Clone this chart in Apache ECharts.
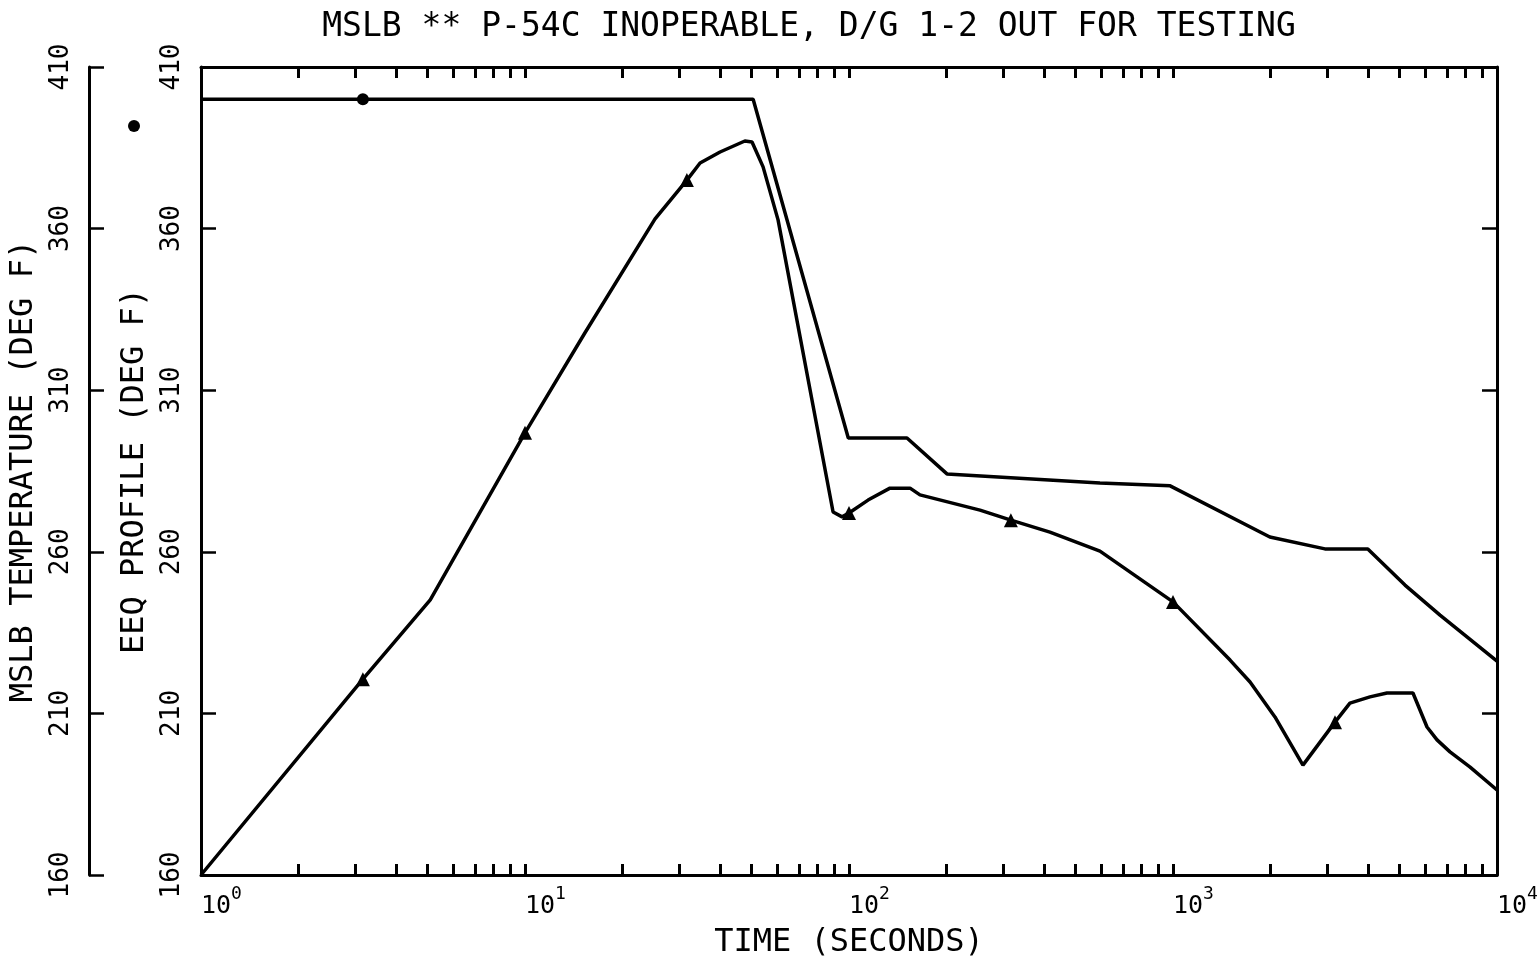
<!DOCTYPE html>
<html>
<head>
<meta charset="utf-8">
<title>MSLB - P-54C inoperable</title>
<script src="https://cdn.jsdelivr.net/npm/echarts@6/dist/echarts.min.js"></script>
<style>
  html, body { margin: 0; padding: 0; background: #fff; }
  #chart { width: 1540px; height: 962px; }
</style>
</head>
<body>
<div id="chart"></div>
<script>
// EEQ profile (upper curve), time in seconds / temperature in deg F
const eeqTime = [1, 3.16, 50.6, 99.5, 151, 200.6, 595, 980, 1990, 2944, 3993, 5200, 6670, 10000]
const eeqTemp = [400, 400, 400, 295.2, 295.2, 284.1, 281.3, 280.4, 264.6, 260.9, 260.9, 249.7, 240.4, 226.2]
const eeqMarkTimes = [3.16]

// MSLB temperature (lower curve)
const mslbTime = [1, 3.16, 5.1, 10, 15.3, 25.2, 31.6, 34.7, 40, 47.7, 50.2, 54.3, 60.4, 89.3, 95.2, 100,
  114.5, 133.8, 154.3, 165.6, 253.7, 316, 417, 595, 1000, 1500, 1729, 2064, 2518, 3162, 3516, 4055,
  4575, 5503, 6081, 6530, 7160, 8260, 10000]
const mslbTemp = [160, 220.6, 245.1, 296.8, 327.7, 363.0, 375.0, 380.3, 383.7, 387.1, 386.8, 379.1, 362.7, 272.3, 270.8, 272.0,
  276.0, 279.7, 279.7, 277.6, 272.9, 269.8, 266.1, 260.2, 244.5, 226.5, 219.7, 208.9, 194.0, 207.3, 213.2, 215.1,
  216.3, 216.3, 205.8, 201.8, 198.1, 193.4, 186.3]
const mslbMarkTimes = [3.16, 10, 31.6, 100, 316, 1000, 3162]

// tick labels
const yTicks = [160, 210, 260, 310, 360, 410]
const xDecades = [1, 10, 100, 1000, 10000]
const xTicks = []
xDecades.forEach((d, i) => {
  if (i === xDecades.length - 1) { xTicks.push(d); return }
  for (let k = 1; k < 10; k++) xTicks.push(d * k)
})

const FONT = "'DejaVu Sans Mono', monospace"
const INK = '#000'

const toData = (times, temps, marks, symbol) => times.map((t, i) => ({
  value: [t, temps[i]],
  symbol: marks.includes(t) ? symbol : 'none'
}))

const xAxisBase = (pos) => ({
  type: 'log',
  logBase: 10,
  min: 1,
  max: 10000,
  position: pos,
  axisLine: { show: true, lineStyle: { color: INK, width: 3 } },
  axisTick: { show: true, inside: true, length: 11, customValues: xTicks, lineStyle: { color: INK, width: 3 } },
  splitLine: { show: false },
  minorTick: { show: false },
  minorSplitLine: { show: false }
})

const yAxisBase = (pos, offset) => ({
  type: 'value',
  min: 160,
  max: 410,
  position: pos,
  offset: offset,
  axisLine: { show: true, onZero: false, lineStyle: { color: INK, width: 3 } },
  axisTick: { show: true, inside: true, length: 15, customValues: yTicks, lineStyle: { color: INK, width: 2.5 } },
  splitLine: { show: false }
})

const chart = echarts.init(document.getElementById('chart'))

const option = {
  backgroundColor: '#fff',
  animation: false,
  title: {
    text: 'MSLB ** P-54C INOPERABLE, D/G 1-2 OUT FOR TESTING',
    left: 804,
    top: 6,
    textAlign: 'center',
    textStyle: { fontFamily: FONT, fontSize: 33, fontWeight: 'normal', color: INK }
  },
  legend: {
    data: [{ name: 'EEQ PROFILE', icon: 'circle' }],
    left: 123,
    top: 115,
    itemWidth: 12,
    itemHeight: 12,
    selectedMode: false,
    formatter: () => '',
    textStyle: { fontSize: 1 }
  },
  grid: { left: 201, right: 43, top: 67, bottom: 87, outerBoundsMode: 'none' },
  xAxis: [
    Object.assign(xAxisBase('bottom'), {
      name: 'TIME (SECONDS)',
      nameLocation: 'middle',
      nameGap: 52,
      nameTextStyle: { fontFamily: FONT, fontSize: 32, color: INK },
      axisLabel: {
        show: true,
        margin: 10,
        align: 'left',
        customValues: xDecades,
        formatter: v => '{b|10}{s|' + Math.round(Math.log10(v)) + '}',
        rich: {
          b: { fontFamily: FONT, fontSize: 25, color: INK, lineHeight: 34, verticalAlign: 'bottom' },
          s: { fontFamily: FONT, fontSize: 18, color: INK, lineHeight: 34, verticalAlign: 'top' }
        }
      }
    }),
    Object.assign(xAxisBase('top'), { axisLabel: { show: false } })
  ],
  yAxis: [
    Object.assign(yAxisBase('left', 0), {
      name: 'EEQ PROFILE (DEG F)',
      nameLocation: 'middle',
      nameGap: 47,
      nameRotate: 90,
      nameTextStyle: { fontFamily: FONT, fontSize: 32, color: INK },
      axisLabel: { show: true, rotate: 90, margin: 16, customValues: yTicks,
        fontFamily: FONT, fontSize: 26, color: INK }
    }),
    Object.assign(yAxisBase('left', 112), {
      name: 'MSLB TEMPERATURE (DEG F)',
      nameLocation: 'middle',
      nameGap: 44,
      nameRotate: 90,
      nameTextStyle: { fontFamily: FONT, fontSize: 32, color: INK },
      axisLabel: { show: true, rotate: 90, margin: 15, customValues: yTicks,
        fontFamily: FONT, fontSize: 26, color: INK }
    }),
    Object.assign(yAxisBase('right', 0), { axisLabel: { show: false } })
  ],
  series: [
    {
      name: 'EEQ PROFILE',
      type: 'line',
      xAxisIndex: 0,
      yAxisIndex: 0,
      symbol: 'circle',
      symbolSize: 12,
      showSymbol: true,
      lineStyle: { color: INK, width: 3.5 },
      itemStyle: { color: INK },
      data: toData(eeqTime, eeqTemp, eeqMarkTimes, 'circle')
    },
    {
      name: 'MSLB TEMPERATURE',
      type: 'line',
      xAxisIndex: 0,
      yAxisIndex: 1,
      symbol: 'triangle',
      symbolSize: 14,
      showSymbol: true,
      lineStyle: { color: INK, width: 3.5 },
      itemStyle: { color: INK },
      data: toData(mslbTime, mslbTemp, mslbMarkTimes, 'triangle')
    }
  ]
}

chart.setOption(option)
</script>
</body>
</html>
